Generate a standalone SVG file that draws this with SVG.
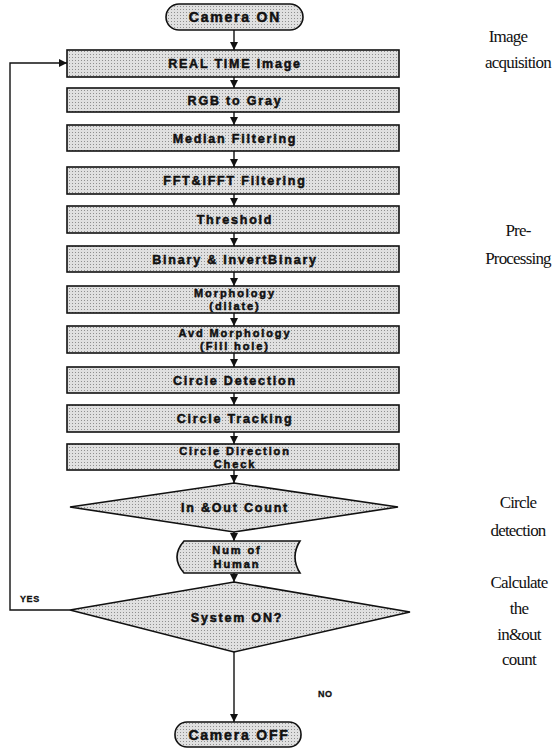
<svg xmlns="http://www.w3.org/2000/svg" width="555" height="751" viewBox="0 0 555 751">
<defs>
<marker id="ah" viewBox="0 0 10 10" refX="10" refY="5" markerWidth="8" markerHeight="8" markerUnits="userSpaceOnUse" orient="auto">
<path d="M0,0 L10,5 L0,10 Z" fill="#111"/>
</marker>
<pattern id="dots" width="3" height="3" patternUnits="userSpaceOnUse">
<rect width="3" height="3" fill="#e0e0e0"/>
<rect width="1" height="1" fill="#8f8f8f"/>
</pattern>
</defs>
<style>
.n{fill:url(#dots);stroke:#111;stroke-width:1.6}
.t{font-family:"Liberation Sans",Arial,sans-serif;font-size:12.5px;font-weight:bold;letter-spacing:1.8px;fill:#111;text-anchor:middle;stroke:#111;stroke-width:0.5}
.tt{font-size:14px}
.t2{font-size:11px;letter-spacing:1.9px}
.c{stroke:#111;stroke-width:1.4;fill:none;marker-end:url(#ah)}
.s{font-family:"Liberation Serif","Times New Roman",serif;font-size:17px;fill:#111;text-anchor:middle;letter-spacing:-0.8px}
.l{font-family:"Liberation Sans",Arial,sans-serif;font-size:9px;font-weight:bold;letter-spacing:0.6px;fill:#111;stroke:#111;stroke-width:0.3}
</style>
<rect width="555" height="751" fill="#fff"/>
<g id="connectors">
<line class="c" x1="234" y1="30" x2="234" y2="50"/>
<line class="c" x1="234" y1="77" x2="234" y2="88"/>
<line class="c" x1="234" y1="112" x2="234" y2="125"/>
<line class="c" x1="234" y1="151" x2="234" y2="167"/>
<line class="c" x1="234" y1="194" x2="234" y2="206"/>
<line class="c" x1="234" y1="233" x2="234" y2="246"/>
<line class="c" x1="234" y1="272" x2="234" y2="286"/>
<line class="c" x1="234" y1="313" x2="234" y2="326"/>
<line class="c" x1="234" y1="353" x2="234" y2="367"/>
<line class="c" x1="234" y1="393" x2="234" y2="405"/>
<line class="c" x1="234" y1="432" x2="234" y2="444"/>
<line class="c" x1="234" y1="470" x2="234" y2="483"/>
<line class="c" x1="234" y1="532" x2="234" y2="541"/>
<line class="c" x1="234" y1="573" x2="234" y2="582"/>
<line class="c" x1="234" y1="652" x2="234" y2="722"/>
<polyline class="c" points="70,610 10,610 10,63 67,63"/>
<text class="l" x="20" y="602">YES</text>
<text class="l" x="318" y="697">NO</text>
</g>
<g id="camera-on">
<rect class="n" x="166" y="4" width="137" height="26" rx="13"/>
<text class="t tt" x="235" y="22">Camera ON</text>
</g>
<g id="real-time-image">
<rect class="n" x="67" y="50" width="332" height="27"/>
<text class="t" x="235" y="68">REAL TIME Image</text>
</g>
<g id="rgb-to-gray">
<rect class="n" x="67" y="88" width="332" height="24"/>
<text class="t" x="235" y="105">RGB to Gray</text>
</g>
<g id="median-filtering">
<rect class="n" x="67" y="125" width="332" height="26"/>
<text class="t" x="235" y="143">Median Filtering</text>
</g>
<g id="fft-filtering">
<rect class="n" x="67" y="167" width="332" height="27"/>
<text class="t" x="235" y="185">FFT&amp;IFFT Filtering</text>
</g>
<g id="threshold">
<rect class="n" x="67" y="206" width="332" height="27"/>
<text class="t" x="235" y="224">Threshold</text>
</g>
<g id="binary">
<rect class="n" x="67" y="246" width="332" height="26"/>
<text class="t" x="235" y="264">Binary &amp; InvertBinary</text>
</g>
<g id="morphology">
<rect class="n" x="67" y="286" width="332" height="27"/>
<text class="t t2" x="235" y="297">Morphology</text>
<text class="t t2" x="235" y="310">(dilate)</text>
</g>
<g id="avd-morphology">
<rect class="n" x="67" y="326" width="332" height="27"/>
<text class="t t2" x="235" y="337">Avd Morphology</text>
<text class="t t2" x="235" y="350">(Fill hole)</text>
</g>
<g id="circle-detection">
<rect class="n" x="67" y="367" width="332" height="26"/>
<text class="t" x="235" y="385">Circle Detection</text>
</g>
<g id="circle-tracking">
<rect class="n" x="67" y="405" width="332" height="27"/>
<text class="t" x="235" y="423">Circle Tracking</text>
</g>
<g id="circle-direction">
<rect class="n" x="67" y="444" width="332" height="26"/>
<text class="t t2" x="235" y="455">Circle Direction</text>
<text class="t t2" x="235" y="468">Check</text>
</g>
<g id="in-out-count">
<polygon class="n" points="234,483 398,507 234,532 70,507"/>
<text class="t" x="235" y="512">In &amp;Out Count</text>
</g>
<g id="num-of-human">
<path class="n" d="M184,541 L300,541 Q290,557 300,573 L184,573 Q170,557 184,541 Z"/>
<text class="t t2" x="237" y="554">Num of</text>
<text class="t t2" x="237" y="568">Human</text>
</g>
<g id="system-on">
<polygon class="n" points="234,582 410,612 234,652 70,610"/>
<text class="t" x="237" y="622">System ON?</text>
</g>
<g id="camera-off">
<rect class="n" x="175" y="722" width="126" height="25" rx="12"/>
<text class="t tt" x="239" y="740">Camera OFF</text>
</g>
<g id="side-labels">
<text class="s" x="508" y="42">Image</text>
<text class="s" x="518" y="68">acquisition</text>
<text class="s" x="518" y="236">Pre-</text>
<text class="s" x="518" y="264">Processing</text>
<text class="s" x="518" y="508">Circle</text>
<text class="s" x="518" y="536">detection</text>
<text class="s" x="519" y="588">Calculate</text>
<text class="s" x="519" y="614">the</text>
<text class="s" x="519" y="640">in&amp;out</text>
<text class="s" x="519" y="665">count</text>
</g>
</svg>
